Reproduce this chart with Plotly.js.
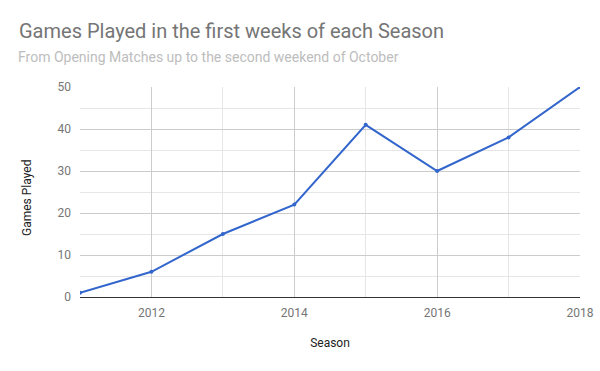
<!DOCTYPE html>
<html>
<head>
<meta charset="utf-8">
<script src="https://cdn.plot.ly/plotly-3.0.1.min.js"></script>
<style>html,body{margin:0;padding:0;background:#fff;}#chart{width:600px;height:371px;}</style>
</head>
<body>
<div id="chart"></div>
<script>
const seasons = [2011, 2012, 2013, 2014, 2015, 2016, 2017, 2018];
const gamesPlayed = [1, 6, 15, 22, 41, 30, 38, 50];

const trace = {
  x: seasons,
  y: gamesPlayed,
  type: 'scatter',
  mode: 'lines+markers',
  line: {color: '#3366cc', width: 2},
  marker: {color: '#3366cc', size: 4},
  hoverinfo: 'x+y'
};

const layout = {
  width: 600,
  height: 371,
  margin: {l: 80, r: 20, t: 87, b: 74},
  paper_bgcolor: '#fff',
  plot_bgcolor: '#fff',
  font: {family: 'Roboto, Arial, sans-serif', size: 12, color: '#757575'},
  showlegend: false,
  title: {
    text: 'Games Played in the first weeks of each Season',
    font: {family: 'Roboto, Arial, sans-serif', size: 20, color: '#757575'},
    x: 19/600, xref: 'container', xanchor: 'left',
    y: 1 - 31/371, yref: 'container', yanchor: 'middle'
  },
  annotations: [{
    text: 'From Opening Matches up to the second weekend of October',
    xref: 'paper', yref: 'paper',
    x: -64/500, y: 1 + 30/210,
    xanchor: 'left', yanchor: 'middle',
    showarrow: false,
    font: {family: 'Roboto, Arial, sans-serif', size: 14, color: '#bdbdbd'}
  }, {
    text: 'Games Played',
    xref: 'paper', yref: 'paper',
    x: -53/500, y: (297 - 198)/210,
    xanchor: 'center', yanchor: 'middle',
    textangle: -90,
    showarrow: false,
    font: {family: 'Roboto, Arial, sans-serif', size: 12, color: '#222222'}
  }],
  xaxis: {
    range: [2011, 2018],
    tick0: 2012, dtick: 2,
    showgrid: true, gridcolor: '#cccccc', gridwidth: 1,
    minor: {dtick: 1, tick0: 2011, showgrid: true, gridcolor: '#e6e6e6'},
    showline: true, linecolor: '#333333', linewidth: 1,
    zeroline: false,
    ticks: '',
    ticklabelstandoff: 5,
    tickfont: {size: 12, color: '#757575'},
    title: {text: 'Season', font: {size: 12, color: '#222222'}, standoff: 19},
    fixedrange: true
  },
  yaxis: {
    range: [0, 50],
    tick0: 0, dtick: 10,
    showgrid: true, gridcolor: '#cccccc', gridwidth: 1,
    minor: {dtick: 5, showgrid: true, gridcolor: '#e6e6e6'},
    zeroline: false,
    showline: false,
    ticks: '',
    ticklabelstandoff: 8,
    tickfont: {size: 12, color: '#757575'},
    fixedrange: true
  }
};

Plotly.newPlot('chart', [trace], layout, {displayModeBar: false, staticPlot: true});
</script>
</body>
</html>
